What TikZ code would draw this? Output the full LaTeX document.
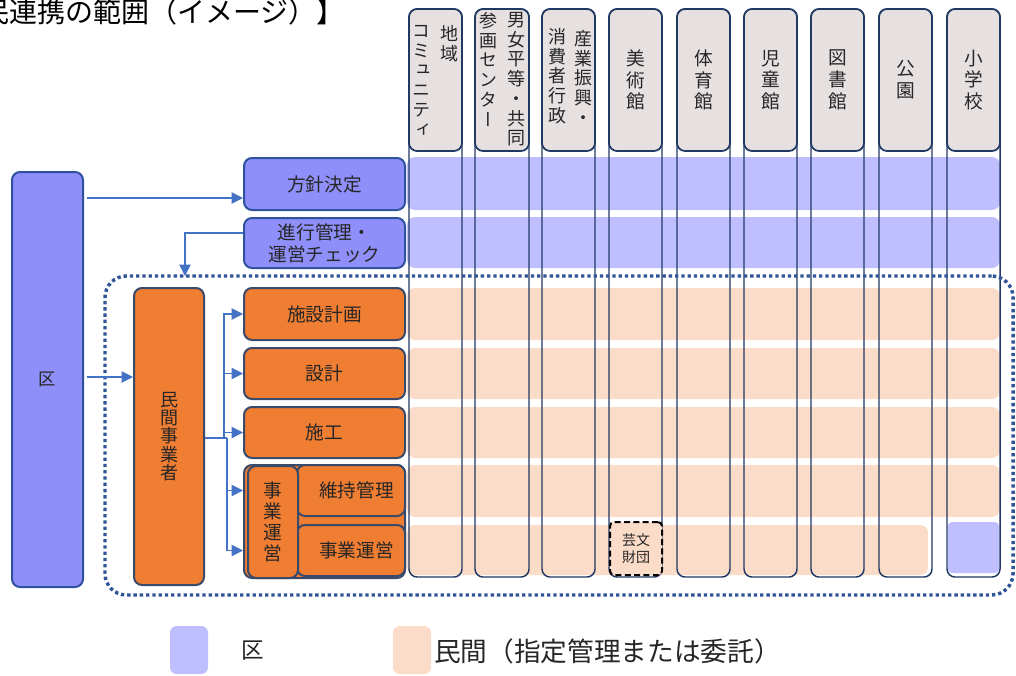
\documentclass[tikz,border=0pt]{standalone}
\usepackage{fontspec}
\setmainfont{Noto Sans CJK JP}
\newfontfamily\vfont[RawFeature=+vert]{Noto Sans CJK JP}
\usetikzlibrary{fit,arrows.meta}
\definecolor{navy}{HTML}{203864}
\definecolor{bordblue}{HTML}{2F52A0}
\definecolor{orbord}{HTML}{3A4A6A}
\definecolor{kublue}{HTML}{8F8FFA}
\definecolor{rowblue}{HTML}{BFBFFF}
\definecolor{peach}{HTML}{FBDCC8}
\definecolor{orng}{HTML}{EF7D32}
\definecolor{hdr}{HTML}{E6E0E0}
\definecolor{arrblue}{HTML}{4472C4}
\definecolor{dotblue}{HTML}{2F5597}
\definecolor{txt}{HTML}{262626}
\tikzset{
  basebox/.style={line width=1.5pt, rounded corners=6pt, inner sep=0pt},
  bluebox/.style={basebox, draw=bordblue, fill=kublue},
  orbox/.style={basebox, draw=orbord, fill=orng},
  btxt/.style={inner sep=0pt, text=txt, align=center, font=\fontsize{14}{16.5}\selectfont},
  hdrbox/.style={draw=navy, fill=hdr, line width=1.3pt, rounded corners=6pt, inner sep=0pt},
  colbox/.style={draw=navy, line width=1.1pt, rounded corners=6pt, inner sep=0pt},
  band/.style={rounded corners=6pt},
  vtxt/.style={inner sep=0pt, text=txt, align=center, font=\vfont\fontsize{13.5}{14.8}\selectfont},
  vtxtw/.style={vtxt, font=\vfont\fontsize{14}{16.3}\selectfont},
  arr/.style={draw=arrblue, line width=0.8pt, -{Triangle[length=8.5pt,width=8.5pt]}},
  arrline/.style={draw=arrblue, line width=0.8pt},
  dotframe/.style={draw=dotblue, line width=2.6pt, dash pattern=on 2.5pt off 2.2pt, rounded corners=16pt},
  legbox/.style={inner sep=0pt, rounded corners=5pt},
}
\begin{document}
\begin{tikzpicture}[x=0.75pt,y=-0.75pt]
\useasboundingbox (0,0) rectangle (1016,675);
\clip (0,0) rectangle (1016,675);

% title (its first character is cut by the left edge, as in the picture)
\node[anchor=west, inner sep=0pt, font=\fontsize{21}{22}\selectfont] (title) at (-19,12) {民連携の範囲（イメージ）】};

% row bands
\fill[rowblue, band] (407,157) rectangle (1000,210);
\fill[rowblue, band] (407,217) rectangle (1000,268);
\fill[peach, band] (407,288) rectangle (1000,340);
\fill[peach, band] (407,348) rectangle (1000,399);
\fill[peach, band] (407,407) rectangle (1000,458);
\fill[peach, band] (407,465) rectangle (1000,517);
\fill[peach, band] (407,525) rectangle (928,575);
\fill[rowblue, rounded corners=3pt] (948,522) rectangle (999,573);

% columns and headers
\foreach \i/\l/\r in {1/409/462, 2/475/529, 3/542/595, 4/609/662, 5/677/730, 6/744/797, 7/811/864, 8/879/932, 9/947/1000} {
  \node[colbox, fit={(\l,9)(\r,577)}] (c\i) {};
  \node[hdrbox, fit={(\l,9)(\r,151)}] (h\i) {};
}

% header texts
\node[vtxt, anchor=north] (t1a) at (449,25) {地\\域};
\node[vtxt, anchor=north] (t1b) at (421,25) {コ\\ミ\\ュ\\ニ\\テ\\ィ};
\node[vtxt, anchor=north] (t2a) at (516,12) {男\\女\\平\\等\\・\\共\\同};
\node[vtxt, anchor=north] (t2b) at (488,12) {参\\画\\セ\\ン\\タ\\ー};
\node[vtxt, anchor=north] (t3a) at (583,30) {産\\業\\振\\興\\・};
\node[vtxt, anchor=north] (t3b) at (557,28) {消\\費\\者\\行\\政};
\node[vtxtw] (t4) at (h4.center) {美\\術\\館};
\node[vtxtw] (t5) at (h5.center) {体\\育\\館};
\node[vtxtw] (t6) at (h6.center) {児\\童\\館};
\node[vtxtw] (t7) at (h7.center) {図\\書\\館};
\node[vtxtw] (t8) at (h8.center) {公\\園};
\node[vtxtw] (t9) at (h9.center) {小\\学\\校};

% geibun zaidan
\node[draw=black, dash pattern=on 4.5pt off 2.5pt, line width=1.5pt, fill=peach, rounded corners=3pt,
  fit={(610,522)(662,575)}, inner sep=0pt] (geibun) {};
\node[btxt, font=\fontsize{10.5}{13}\selectfont] (geibunT) at (geibun.center) {芸文\\財団};

% dotted frame
\node[dotframe, fit={(105,276)(1013,595)}, inner sep=0pt] (frame) {};

% left blue boxes
\node[bluebox, fit={(12,172)(83,587)}] (ku) {};
\node[btxt, font=\fontsize{13}{15}\selectfont] (kuT) at (ku.center) {区};
\node[bluebox, fit={(244,158)(405,210)}] (houshin) {};
\node[btxt] (houshinT) at (houshin.center) {方針決定};
\node[bluebox, fit={(244,218)(405,268)}] (shinko) {};
\node[btxt] (shinkoT) at (shinko.center) {進行管理・\\運営チェック};

% orange boxes
\node[orbox, fit={(134,288)(204,585)}] (minkan) {};
\node[btxt, font=\fontsize{13.5}{13.7}\selectfont] (minkanT) at (minkan.center) {民\\間\\事\\業\\者};
\node[orbox, fit={(244,288)(405,340)}] (sisetsu) {};
\node[btxt] (sisetsuT) at (sisetsu.center) {施設計画};
\node[orbox, fit={(244,348)(405,399)}] (sekkei) {};
\node[btxt] (sekkeiT) at (sekkei.center) {設計};
\node[orbox, fit={(244,407)(405,458)}] (seko) {};
\node[btxt] (sekoT) at (seko.center) {施工};
\node[orbox, fit={(244,465)(405,578)}] (jback) {};
\node[orbox, fit={(297,465)(405,516)}] (iji) {};
\node[btxt] (ijiT) at ([xshift=4pt]iji.center) {維持管理};
\node[orbox, fit={(297,525)(405,576)}] (unei) {};
\node[btxt] (uneiT) at ([xshift=4pt]unei.center) {事業運営};
\node[orbox, fit={(248,466)(298,578)}] (jv) {};
\node[btxt, font=\fontsize{14}{15.8}\selectfont] (jvT) at (jv.center) {事\\業\\運\\営};

% connectors
\coordinate (ka) at (0,198);
\coordinate (kb) at (0,377);
\coordinate (sa) at (0,233);
\coordinate (ft) at (185,276);
\coordinate (jb) at (224,438);
\coordinate (jb2) at (227,438);
\draw[arr, shorten <=2.5pt] (ku.east |- ka) -- (houshin.west |- ka);
\draw[arr] (shinko.west |- sa) -| (ft);
\draw[arr, shorten <=2.5pt] (ku.east |- kb) -- (minkan.west |- kb);
\draw[arrline] (minkan.east |- jb) -- (jb2);
\draw[arr] (jb) |- (sisetsu.west);
\draw[arr] (jb) |- (sekkei.west);
\draw[arr] (jb) |- (seko.west);
\draw[arr] (jb2) |- (jback.west |- iji.west);
\draw[arr] (jb2) |- (jback.west |- unei.west);

% legend
\node[legbox, fill=rowblue, fit={(170,626)(208,674)}] (lg1) {};
\node[anchor=west, inner sep=0pt, text=txt, font=\fontsize{17}{17}\selectfont] (lg1t) at (241,651) {区};
\node[legbox, fill=peach, fit={(393,626)(431,674)}] (lg2) {};
\node[anchor=west, inner sep=0pt, text=txt, font=\fontsize{20}{20}\selectfont] (lg2t) at (434,651) {民間（指定管理または委託）};
\end{tikzpicture}
\end{document}
